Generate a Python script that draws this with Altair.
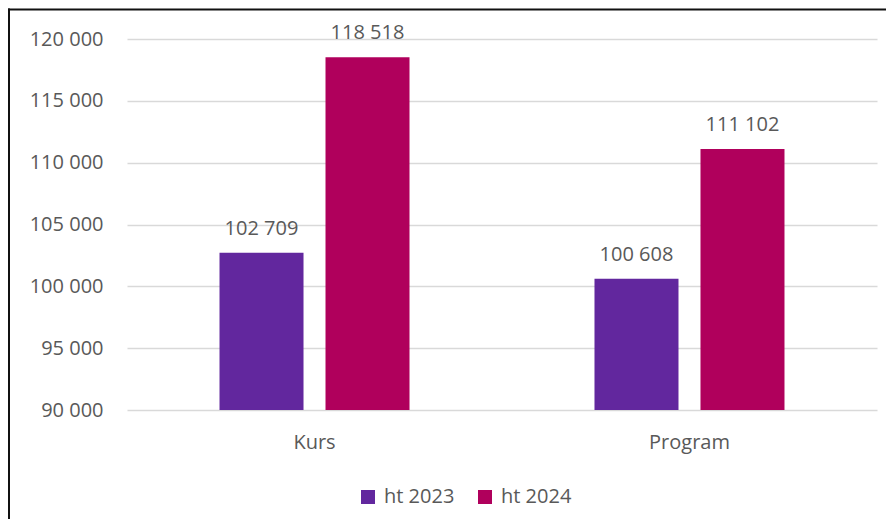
import altair as alt
import pandas as pd

categories = ["Kurs", "Program"]
series = ["ht 2023", "ht 2024"]
values_ht2023 = [102709, 100608]
values_ht2024 = [118518, 111102]
y_ticks = [90000, 95000, 100000, 105000, 110000, 115000, 120000]
colors = ["#62279E", "#B0005C"]

rows = []
for i, c in enumerate(categories):
    rows.append({"kategori": c, "termin": series[0], "antal": values_ht2023[i]})
    rows.append({"kategori": c, "termin": series[1], "antal": values_ht2024[i]})
df = pd.DataFrame(rows)

FONT = "Open Sans"
GREY = "#595959"
FS = 20

x = alt.X(
    "kategori:N", sort=categories, title=None,
    scale=alt.Scale(paddingInner=0.4933, paddingOuter=0.2467),
    axis=alt.Axis(labelAngle=0, ticks=False, domain=False, labelPadding=22,
                  labelFontSize=FS, labelColor=GREY, labelFont=FONT, grid=False),
)
xo = alt.XOffset("termin:N", sort=series,
                 scale=alt.Scale(paddingInner=0.2075, paddingOuter=0))
y = alt.Y(
    "antal:Q", title=None,
    scale=alt.Scale(domain=[90000, 120000], zero=False, nice=False),
    axis=alt.Axis(values=y_ticks,
                  labelExpr="replace(format(datum.value, ','), ',', ' ')",
                  ticks=False, domain=False, labelPadding=24,
                  grid=True, gridColor="#d9d9d9", gridWidth=1.5,
                  labelFontSize=FS, labelColor=GREY, labelFont=FONT),
)

base = alt.Chart(df)

bars = base.mark_bar().encode(
    x=x, xOffset=xo, y=y, y2=alt.datum(90000),
    color=alt.Color(
        "termin:N", sort=series,
        scale=alt.Scale(domain=series, range=colors),
        legend=alt.Legend(orient="none", direction="horizontal", legendX=231, legendY=448,
                          title=None, symbolType="square", symbolSize=196,
                          symbolStrokeWidth=0, labelFontSize=FS, labelFont=FONT,
                          labelColor=GREY, labelOffset=6, columnPadding=20),
    ),
)

labels = base.transform_calculate(
    etikett="replace(format(datum.antal, ','), ',', ' ')"
).mark_text(dy=-18, baseline="alphabetic", fontSize=FS, font=FONT, color=GREY).encode(
    x=x, xOffset=xo, y=y, text="etikett:N"
)

frame_data = alt.Data(values=[{"f": 1}])
frame_left = alt.Chart(frame_data).mark_rule(color="#111111", strokeWidth=2).encode(
    x=alt.value(-118), y=alt.value(-30.5), y2=alt.value(520)
)
frame_top = alt.Chart(frame_data).mark_rule(color="#111111", strokeWidth=2).encode(
    x=alt.value(-119), x2=alt.value(770), y=alt.value(-29.5)
)

chart = alt.layer(bars, labels, frame_left, frame_top).properties(
    width=750, height=371,
    autosize=alt.AutoSizeParams(type="none"),
    padding={"left": 119, "top": 31, "right": 9, "bottom": 109},
).configure_view(stroke=None)

chart.save("out.html", embed_options={"renderer": "svg", "actions": False})
